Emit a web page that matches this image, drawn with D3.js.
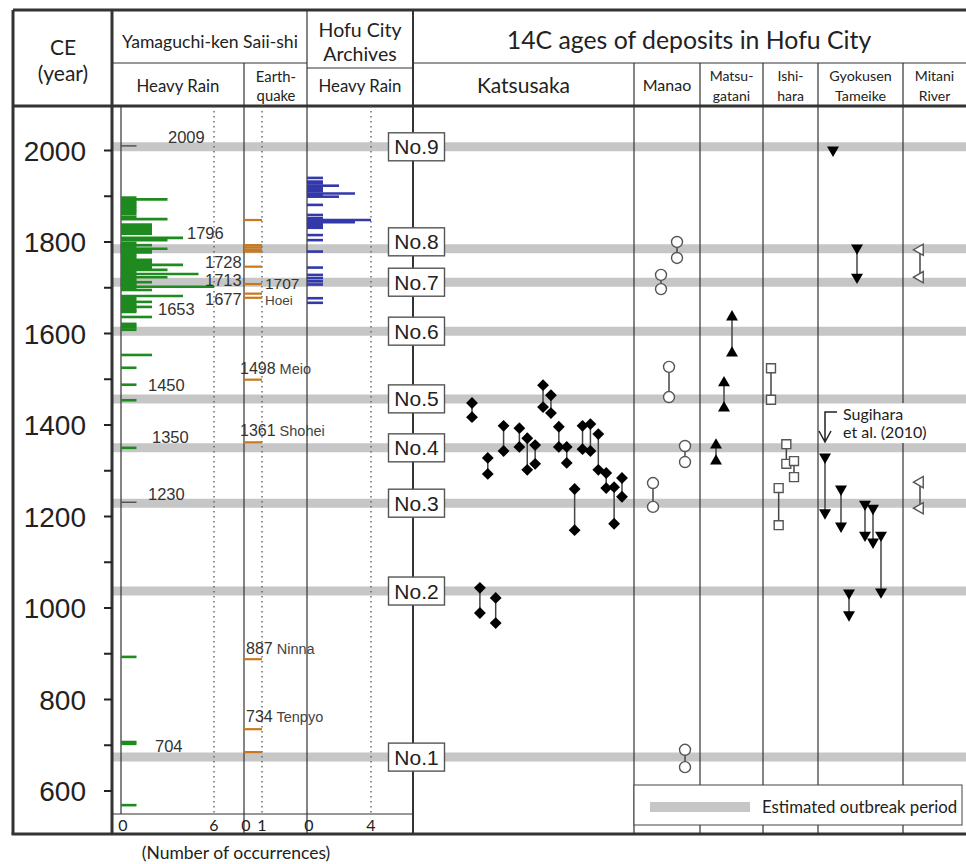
<!DOCTYPE html>
<html lang="en">
<head>
<meta charset="UTF-8">
<script src="https://d3js.org/d3.v7.min.js"></script>
<title>Hofu City deposits</title>
<style>
  body { margin: 0; background: #fff; }
  svg text { font-family: "Liberation Sans", Arial, sans-serif; }
  svg .hdr { font-family: Lato, "Open Sans", sans-serif; fill: #222; }
</style>
</head>
<body>
<div id="chart"></div>
<script>
// ---------- data ----------
const yearTicks = [600, 700, 800, 900, 1000, 1100, 1200, 1300, 1400, 1500, 1600, 1700, 1800, 1900, 2000]
const yearLabels = [600, 800, 1000, 1200, 1400, 1600, 1800, 2000]

// Yamaguchi-ken Saii-shi, heavy rain: [year, count]
const rainSaiishi = [
  [1896, 1], [1892, 3], [1888, 1], [1884, 1], [1880, 1], [1876, 1], [1872, 1], [1868, 1], [1865, 1],
  [1860, 1], [1854, 1], [1849, 3],
  [1837, 2], [1833, 2], [1829, 2], [1825, 2], [1821, 2], [1817, 2],
  [1808, 4], [1803, 3],
  [1797, 1], [1792, 2], [1788, 1], [1784, 3], [1780, 2], [1776, 2], [1772, 1], [1768, 1], [1764, 1],
  [1760, 2], [1756, 2], [1752, 2], [1749, 4], [1745, 2], [1741, 2], [1738, 3], [1734, 1], [1729, 5],
  [1725, 1], [1722, 3], [1718, 1], [1714, 1], [1711, 2], [1707, 1], [1704, 1], [1701, 6], [1697, 1], [1694, 2],
  [1681, 4], [1677, 1], [1672, 1], [1668, 2], [1664, 1], [1660, 1], [1657, 2], [1653, 1], [1649, 1], [1646, 1],
  [1635, 2], [1620, 1], [1616, 1], [1612, 1], [1607, 1],
  [1552, 2], [1524, 1], [1487, 1], [1453, 1], [1349, 1], [892, 1], [706, 1], [702, 1], [568, 1]
]
const rainNotes = [2009, 1796, 1728, 1713, 1677, 1653, 1450, 1350, 1230, 704]
const rainMarks = [2009, 1230]

// Yamaguchi-ken Saii-shi, earthquakes (one each)
const quakeSaiishi = [1847, 1792, 1787, 1782, 1778, 1745, 1707, 1686, 1677, 1498, 1361, 887, 734, 684]
const quakeNotes = [[1707, "Hoei"], [1498, "Meio"], [1361, "Shohei"], [887, "Ninna"], [734, "Tenpyo"]]

// Hofu City Archives, heavy rain: [year, count]
const rainArchives = [
  [1939, 1], [1931, 1], [1927, 1], [1922, 2], [1918, 1], [1914, 1], [1910, 1], [1905, 3], [1902, 1], [1898, 2],
  [1880, 1], [1858, 1], [1851, 1], [1847, 4], [1842, 3], [1838, 1], [1834, 1], [1830, 1],
  [1814, 1], [1803, 1], [1778, 1], [1743, 1], [1727, 1], [1720, 1], [1713, 1], [1706, 1], [1676, 1], [1666, 1]
]

// estimated outbreak periods No.1 .. No.9
const outbreakYears = [673, 1036, 1228, 1349, 1456, 1604, 1711, 1784, 2007]
const outbreakNames = ["No.1", "No.2", "No.3", "No.4", "No.5", "No.6", "No.7", "No.8", "No.9"]

// 14C ages: [sample slot, upper year, lower year]
const katsusaka = [
  [0, 1447, 1416], [1, 1043, 988], [2, 1327, 1292], [3, 1021, 966], [4, 1397, 1342],
  [6, 1392, 1351], [7, 1370, 1301], [8, 1355, 1314], [9, 1486, 1438], [10, 1464, 1425],
  [11, 1395, 1351], [12, 1351, 1316], [13, 1259, 1169], [14, 1397, 1346], [15, 1401, 1342],
  [16, 1379, 1301], [17, 1294, 1261], [18, 1263, 1183], [19, 1283, 1242]
]
const manao = [[3, 1799, 1764], [1, 1727, 1696], [2, 1526, 1460], [4, 1353, 1318], [0, 1272, 1220], [4, 689, 651]]
const matsugatani = [[2, 1635, 1556], [1, 1491, 1436], [0, 1355, 1320]]
const ishihara = [[0, 1523, 1454], [2, 1357, 1314], [3, 1320, 1285], [1, 1261, 1180]]
const gyokusen = [[1, 2000, 2000], [4, 1786, 1722], [0, 1329, 1207], [2, 1259, 1178], [5, 1226, 1158],
  [6, 1217, 1143], [7, 1158, 1034], [3, 1032, 984]]
const mitani = [[0, 1782, 1722], [0, 1274, 1217]]

// ---------- layout ----------
const W = 966, H = 864
const frameTop = 10, frameBottom = 834, headMid = 63, headBot = 106, axisY = 814
const frameLeft = 13, yAxisX = 112, frameRight = 966
const green = "#1f8a1f", orange = "#c9771a", blue = "#3338aa", band = "#c6c6c6", ink = "#222"

const y = d3.scaleLinear().domain([2000, 600]).range([150, 790.5])
const xRain = d3.scaleLinear().domain([0, 6]).range([121, 214])
const xQuake = d3.scaleLinear().domain([0, 1]).range([244, 262])
const xArch = d3.scaleLinear().domain([0, 4]).range([307, 371])

const cols = [
  {name: ["Katsusaka"], x0: 413, x1: 634, data: katsusaka, slots: [0, 19], range: [472, 622], shape: "diamond", fs: 21},
  {name: ["Manao"], x0: 634, x1: 700, data: manao, slots: [0, 4], range: [653, 685], shape: "circle", fs: 16},
  {name: ["Matsu-", "gatani"], x0: 700, x1: 763, data: matsugatani, slots: [0, 2], range: [716, 732], shape: "up", fs: 14},
  {name: ["Ishi-", "hara"], x0: 763, x1: 818, data: ishihara, slots: [0, 3], range: [771, 794], shape: "square", fs: 14},
  {name: ["Gyokusen", "Tameike"], x0: 818, x1: 903, data: gyokusen, slots: [0, 7], range: [825, 881], shape: "down", fs: 14.3},
  {name: ["Mitani", "River"], x0: 903, x1: 966, data: mitani, slots: [0, 1], range: [920, 928], shape: "left", fs: 14}
]

const rainNoteLayout = {2009: [168, -3], 1796: [187, -4], 1728: [205, -6], 1713: [205, 5], 1677: [205, 7],
  1653: [158, 6], 1450: [148, -11], 1350: [152, -4], 1230: [148, -2], 704: [155, 9]}
const quakeNoteLayout = {1707: [265, 5], 1498: [240, -6], 1361: [240, -6], 887: [246, -5], 734: [246, -7]}
const boxShift = {"No.8": -7}

const svg = d3.select("#chart").append("svg").attr("width", W).attr("height", H)

// outbreak bands
svg.append("g").selectAll("line").data(outbreakYears).join("line")
  .attr("x1", yAxisX).attr("x2", frameRight)
  .attr("y1", d => y(d)).attr("y2", d => y(d))
  .attr("stroke", band).attr("stroke-width", 9)

// table lines
const grid = svg.append("g").attr("stroke", "#333").attr("fill", "none")
function hline(x1, x2, yy, w) { grid.append("line").attr("x1", x1).attr("x2", x2).attr("y1", yy).attr("y2", yy).attr("stroke-width", w) }
function vline(xx, y1, y2, w) { grid.append("line").attr("x1", xx).attr("x2", xx).attr("y1", y1).attr("y2", y2).attr("stroke-width", w) }

hline(frameLeft, frameRight, frameTop, 3)
hline(frameLeft, frameRight, headBot, 3)
hline(frameLeft - 1.5, frameRight, frameBottom, 3)
vline(frameLeft, frameTop, frameBottom, 3)
vline(yAxisX, frameTop, frameBottom, 3)
hline(yAxisX, 307, headMid, 1.2)
hline(307, 413, headMid + 5, 1.2)
hline(413, frameRight, headMid, 1.2)
vline(244, headMid, frameBottom, 1.2)
vline(307, frameTop, frameBottom, 1.2)
vline(413, frameTop, frameBottom, 2)
cols.slice(1).forEach(c => {
  if (c.x0 === 903) { vline(c.x0, headMid, 403, 1.2); vline(c.x0, 443, frameBottom, 1.2) }
  else vline(c.x0, headMid, frameBottom, 1.2)
})
vline(xRain(0), headBot, axisY, 1.2)
hline(yAxisX, 413, axisY, 1.2)

// dotted reference lines
svg.append("g").selectAll("line").data([xRain(6), xQuake(1), xArch(4)]).join("line")
  .attr("x1", d => d).attr("x2", d => d).attr("y1", headBot).attr("y2", axisY)
  .attr("stroke", "#555").attr("stroke-width", 1.3).attr("stroke-dasharray", "1.5,3.5")

// year axis
const yAxis = d3.axisLeft(y).tickValues(yearTicks).tickSize(8).tickPadding(18)
  .tickFormat(d => yearLabels.includes(d) ? d : "")
const ya = svg.append("g").attr("transform", `translate(${yAxisX},0)`).call(yAxis)
ya.select(".domain").remove()
ya.selectAll(".tick line").attr("stroke", "#222").attr("stroke-width", 2)
ya.selectAll(".tick text").attr("font-size", 28).attr("fill", ink).attr("dy", "0.36em")
  .style("font-family", "'Liberation Sans', Arial, sans-serif")

// count axes
;[[xRain, [0, 6]], [xQuake, [0, 1]], [xArch, [0, 4]]].forEach(([sc, vals]) => {
  svg.append("g").selectAll("text").data(vals).join("text")
    .attr("x", d => sc(d)).attr("y", axisY + 17)
    .attr("text-anchor", "middle")
    .attr("dx", d => d === 0 ? 2 : 0)
    .attr("font-size", 16).attr("fill", ink)
    .style("font-family", "Lato, sans-serif")
    .text(d => d)
})
svg.append("text").attr("class", "hdr").attr("x", 236).attr("y", 859)
  .attr("text-anchor", "middle").attr("font-size", 17.5).text("(Number of occurrences)")

// bars
svg.append("g").selectAll("line").data(rainSaiishi).join("line")
  .attr("x1", xRain(0)).attr("x2", d => xRain(d[1]))
  .attr("y1", d => y(d[0])).attr("y2", d => y(d[0]))
  .attr("stroke", green).attr("stroke-width", 2.6)
svg.append("g").selectAll("line").data(rainMarks).join("line")
  .attr("x1", xRain(0)).attr("x2", xRain(1))
  .attr("y1", d => y(d)).attr("y2", d => y(d))
  .attr("stroke", "#555").attr("stroke-width", 1.5)
svg.append("g").selectAll("line").data(quakeSaiishi).join("line")
  .attr("x1", xQuake(0)).attr("x2", xQuake(1))
  .attr("y1", d => y(d)).attr("y2", d => y(d))
  .attr("stroke", orange).attr("stroke-width", 2.2)
svg.append("g").selectAll("line").data(rainArchives).join("line")
  .attr("x1", xArch(0)).attr("x2", d => xArch(d[1]))
  .attr("y1", d => y(d[0])).attr("y2", d => y(d[0]))
  .attr("stroke", blue).attr("stroke-width", 2.6)

// year notes
svg.append("g").selectAll("text").data(rainNotes).join("text")
  .attr("x", d => rainNoteLayout[d][0]).attr("y", d => y(d) + rainNoteLayout[d][1])
  .attr("font-size", 16.5).attr("fill", "#333").text(d => d)
const qn = svg.append("g").selectAll("text").data(quakeNotes).join("text")
  .attr("x", d => quakeNoteLayout[d[0]][0]).attr("y", d => y(d[0]) + quakeNoteLayout[d[0]][1])
  .attr("fill", "#333")
qn.append("tspan").attr("font-size", d => d[0] === 1707 ? 15.5 : 16).text(d => d[0])
qn.append("tspan").attr("font-size", d => d[0] === 1707 ? 13.5 : 14.5).attr("fill", "#444")
  .attr("x", d => d[0] === 1707 ? quakeNoteLayout[1707][0] : null)
  .attr("dy", d => d[0] === 1707 ? 16 : 0)
  .text(d => (d[0] === 1707 ? "" : " ") + d[1])

// 14C sample markers
const shapes = {
  diamond: {sym: d3.symbolSquare, size: 70, rot: 45, fill: "#000", stroke: "none"},
  circle: {sym: d3.symbolCircle, size: 95, rot: 0, fill: "#fff", stroke: "#555"},
  up: {sym: d3.symbolTriangle, size: 62, rot: 0, fill: "#000", stroke: "none"},
  square: {sym: d3.symbolSquare, size: 80, rot: 0, fill: "#fff", stroke: "#555"},
  down: {sym: d3.symbolTriangle, size: 62, rot: 180, fill: "#000", stroke: "none"},
  left: {sym: d3.symbolTriangle, size: 55, rot: -90, fill: "#fff", stroke: "#555"}
}
cols.forEach(c => {
  const sx = d3.scaleLinear().domain(c.slots).range(c.range)
  const g = svg.append("g")
  const s = shapes[c.shape]
  g.selectAll("line").data(c.data.filter(d => d[1] !== d[2])).join("line")
    .attr("x1", d => sx(d[0])).attr("x2", d => sx(d[0]))
    .attr("y1", d => y(d[1])).attr("y2", d => y(d[2]))
    .attr("stroke", "#444").attr("stroke-width", 1.5)
  const pts = c.data.flatMap(d => d[1] === d[2] ? [[d[0], d[1]]] : [[d[0], d[1]], [d[0], d[2]]])
  g.selectAll("path").data(pts).join("path")
    .attr("d", d3.symbol(s.sym, s.size))
    .attr("transform", d => `translate(${sx(d[0])},${y(d[1])}) rotate(${s.rot})`)
    .attr("fill", s.fill).attr("stroke", s.stroke).attr("stroke-width", 1.4)
})

// Sugihara et al. (2010) pointer
svg.append("path").attr("d", "M837,412 H825 V441 M819,431 L825,442 L831,431")
  .attr("fill", "none").attr("stroke", "#222").attr("stroke-width", 1.5)
svg.append("text").attr("class", "hdr").attr("x", 843).attr("y", 420).attr("font-size", 16).text("Sugihara")
svg.append("text").attr("class", "hdr").attr("x", 843).attr("y", 438).attr("font-size", 16).text("et al. (2010)")

// outbreak boxes
const bx = svg.append("g").selectAll("g").data(outbreakYears).join("g")
  .attr("transform", (d, i) => `translate(416.5,${y(d) + (boxShift[outbreakNames[i]] || 0)})`)
bx.append("rect").attr("x", -28).attr("y", -14).attr("width", 56).attr("height", 28)
  .attr("fill", "#fff").attr("stroke", "#555").attr("stroke-width", 1.4)
bx.append("text").attr("text-anchor", "middle").attr("dy", "0.36em")
  .attr("font-size", 21).attr("fill", ink).text((d, i) => outbreakNames[i])

// header text
const hdr = svg.append("g")
function htext(x, yy, fs, lines, lh) {
  lines.forEach((t, i) => hdr.append("text").attr("class", "hdr").attr("x", x).attr("y", yy + i * (lh || 24))
    .attr("text-anchor", "middle").attr("font-size", fs).text(t))
}
htext(63, 55, 21, ["CE", "(year)"], 26)
htext(210, 48, 17.6, ["Yamaguchi-ken Saii-shi"])
htext(360, 37, 19.5, ["Hofu City", "Archives"])
htext(178, 92, 16.8, ["Heavy Rain"])
htext(276, 82, 14.8, ["Earth-"])
htext(276, 101, 14.8, ["quake"])
htext(360, 92, 16.8, ["Heavy Rain"])
htext(689, 49, 24.8, ["14C ages of deposits in Hofu City"])
cols.forEach(c => {
  const cx = (c.x0 + c.x1) / 2
  if (c.name.length === 1) htext(cx, c.fs > 18 ? 93 : 91, c.fs, c.name)
  else { htext(cx, 81, c.fs, [c.name[0]]); htext(cx, 101, c.fs, [c.name[1]]) }
})

// legend
const lg = svg.append("g")
lg.append("rect").attr("x", 634).attr("y", 785).attr("width", 328).attr("height", 40)
  .attr("fill", "#fff").attr("stroke", "#444").attr("stroke-width", 1)
lg.append("rect").attr("x", 650).attr("y", 802).attr("width", 100).attr("height", 10).attr("fill", band)
lg.append("text").attr("class", "hdr").attr("x", 762).attr("y", 813).attr("font-size", 16.8).attr("fill", "#333")
  .text("Estimated outbreak period")
</script>
</body>
</html>
